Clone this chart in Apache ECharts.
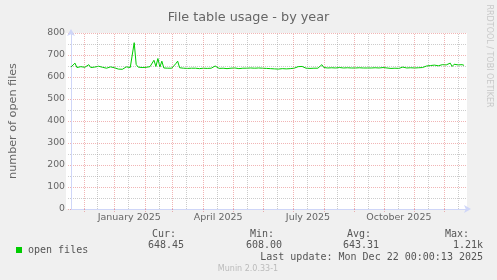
<!DOCTYPE html>
<html><head><meta charset="utf-8">
<script src="https://cdn.jsdelivr.net/npm/echarts@6/dist/echarts.min.js"></script>
<style>html,body{margin:0;padding:0;background:#f0f0f0}#c{width:497px;height:280px}</style>
</head><body><div id="c"></div>
<script>
// ---- data ----
const titleText = 'File table usage - by year';
const yAxisName = 'number of open files';
const seriesName = 'open files';
const startDate = '2024-11-18';
const endDate = '2025-12-24';
const stepDays = 2;
const openFiles = [
645,650,663,643,640,647,641,644,642,656,643,640,645,642,649,641,644,651,640,643,
646,641,642,640,636,634,635,644,646,642,643,645,756,657,645,640,643,641,644,640,
647,642,676,648,684,645,672,641,640,640,640,640,641,660,672,642,639,640,641,639,
642,640,645,640,641,638,642,640,643,639,641,640,644,650,641,639,642,640,641,638,
642,640,639,641,640,638,641,640,646,640,638,641,639,640,637,641,638,640,637,639,
635,638,635,637,640,636,639,638,641,637,640,638,641,640,643,647,652,648,642,640,
643,639,641,640,642,640,645,656,643,640,641,640,642,639,641,640,643,649,641,640,
642,640,641,640,641,640,642,640,641,640,641,639,641,640,642,640,641,640,643,648,
641,643,639,642,640,641,639,642,645,640,641,640,642,640,641,640,642,641,643,642,
650,656,652,650,654,657,651,653,656,650,655,651,663,648,658,650,655,652,656,653
];
const yTicks = [0,100,200,300,400,500,600,700,800];
const monthStarts = ['2024-12-01','2025-01-01','2025-02-01','2025-03-01','2025-04-01','2025-05-01','2025-06-01',
  '2025-07-01','2025-08-01','2025-09-01','2025-10-01','2025-11-01','2025-12-01'];
const midMonths = ['2024-12-15','2025-01-15','2025-02-15','2025-03-15','2025-04-15','2025-05-15','2025-06-15',
  '2025-07-15','2025-08-15','2025-09-15','2025-10-15','2025-11-15','2025-12-15'];
const xLabelDates = ['2025-01-16','2025-04-16','2025-07-16','2025-10-16'];
const xLabelTexts = ['January 2025','April 2025','July 2025','October 2025'];
const statHeads = ['Cur:','Min:','Avg:','Max:'];
const statValues = ['648.45','608.00','643.31','1.21k'];
const lastUpdate = 'Last update: Mon Dec 22 00:00:13 2025';
const footer = 'Munin 2.0.33-1';
const sideText = 'RRDTOOL / TOBI OETIKER';

// ---- build ----
const DAY = 86400000;
const ts = s => { const p = s.split('-').map(Number); return Date.UTC(p[0], p[1]-1, p[2]); };
const t0 = ts(startDate);
const lineData = openFiles.map((v, i) => [t0 + i * stepDays * DAY, v]);
const labelMap = {};
xLabelDates.forEach((d, i) => { labelMap[ts(d)] = xLabelTexts[i]; });

const SANS = 'DejaVu Sans';
const MONO = 'DejaVu Sans Mono';
const FONT = '#666666';
const AXIS = '#CFD6F8';
const MAJ = 'rgba(222,79,79,0.42)';
const MIN = 'rgba(143,143,143,0.45)';

const statX = [176, 274, 371, 469];
const valX = [184, 282, 379, 483];

const graphics = [
  {type:'rect', shape:{x:66, y:33, width:401, height:176}, style:{fill:'#ffffff'}, z:-10, silent:true},
  {type:'text', x:489, y:56, rotation:-Math.PI/2, style:{text:sideText, font:'8px "DejaVu Sans"', fill:'#c8c8c8', align:'center', verticalAlign:'middle'}},
  {type:'text', x:483, y:257.5, style:{text:lastUpdate, font:'10px "DejaVu Sans Mono"', fill:'#555', align:'right', verticalAlign:'middle'}},
  {type:'text', x:248, y:269, style:{text:footer, font:'8px "DejaVu Sans"', fill:'#bbbbbb', align:'center', verticalAlign:'middle'}}
];
statHeads.forEach((h, i) => graphics.push({type:'text', x:statX[i], y:234, style:{text:h, font:'10px "DejaVu Sans Mono"', fill:'#555', align:'right', verticalAlign:'middle'}}));
statValues.forEach((h, i) => graphics.push({type:'text', x:valX[i], y:245.7, style:{text:h, font:'10px "DejaVu Sans Mono"', fill:'#555', align:'right', verticalAlign:'middle'}}));

const chart = echarts.init(document.getElementById('c'), null, {renderer:'canvas'});
chart.setOption({
  backgroundColor:'#f0f0f0',
  animation:false,
  title:{text:titleText, left:'center', top:6, textStyle:{fontFamily:SANS, fontSize:12.8, fontWeight:'normal', color:FONT}},
  legend:{data:[{name:seriesName, icon:'rect'}], left:11, top:240, itemWidth:6, itemHeight:6, itemGap:0,
    textStyle:{fontFamily:MONO, fontSize:10, color:'#555', padding:[0,0,0,1]}},
  grid:{left:66, right:30, top:33, bottom:71},
  xAxis:{type:'value', min:t0, max:ts(endDate),
    axisLine:{show:true, onZero:false, lineStyle:{color:AXIS, width:1}, symbol:['none','arrow'], symbolSize:[6,7], symbolOffset:[0,4]},
    axisTick:{show:true, customValues: monthStarts.map(ts), length:3, lineStyle:{color:MAJ, type:[1,1]}},
    axisLabel:{customValues: xLabelDates.map(ts), formatter: v => labelMap[v] || '', margin:4,
      fontFamily:SANS, fontSize:9.5, color:FONT, hideOverlap:false},
    splitLine:{show:false}},
  yAxis:{type:'value', min:0, max:800, interval:100,
    name:yAxisName, nameLocation:'middle', nameGap:52, nameRotate:90,
    nameTextStyle:{fontFamily:SANS, fontSize:11.2, color:FONT},
    axisLine:{show:true, lineStyle:{color:AXIS, width:1}, symbol:['none','arrow'], symbolSize:[6,7], symbolOffset:[0,4]},
    axisTick:{show:true, length:3, lineStyle:{color:MAJ, type:[1,1]}},
    minorTick:{show:true, splitNumber:2, length:3, lineStyle:{color:MIN, type:[1,1]}},
    axisLabel:{margin:6, fontFamily:SANS, fontSize:9.3, color:FONT},
    splitLine:{show:true, lineStyle:{color:MAJ, type:[1,1], width:1}},
    minorSplitLine:{show:true, lineStyle:{color:MIN, type:[1,1], width:1}}},
  graphic: graphics,
  series:[
    {type:'line', name:'grid', data:[], z:1, silent:true,
      markLine:{silent:true, symbol:'none', label:{show:false}, animation:false,
        data:[...midMonths.map(d => ({xAxis: ts(d), lineStyle:{color:MIN, type:[1,1], width:1}})),
              ...monthStarts.map(d => ({xAxis: ts(d), lineStyle:{color:MAJ, type:[1,1], width:1}}))]}},
    {type:'line', name:seriesName, data:lineData, showSymbol:false, symbol:'none', z:3,
      color:'#00cc00', lineStyle:{color:'#00cc00', width:1}}
  ]
});
</script></body></html>
